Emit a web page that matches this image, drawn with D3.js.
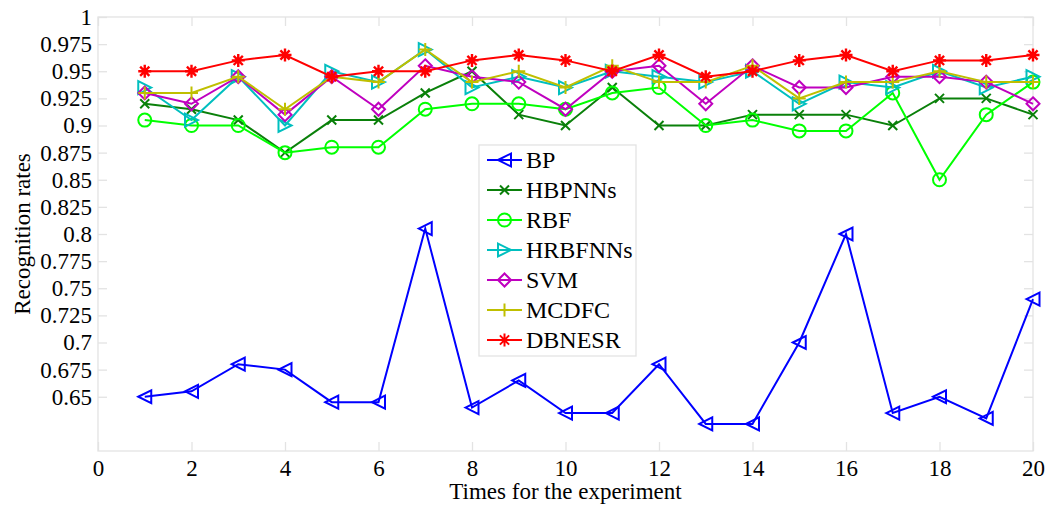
<!DOCTYPE html>
<html>
<head>
<meta charset="utf-8">
<style>
  body { margin: 0; background: #fff; }
  text { font-family: "Liberation Serif", "Times New Roman", serif; fill: #000; }
</style>
</head>
<body>
<script src="https://d3js.org/d3.v7.min.js"></script>
<script>
  // data
  const runs = d3.range(1, 21)
  const xTicks = [0, 2, 4, 6, 8, 10, 12, 14, 16, 18, 20]
  const yTicks = [0.65, 0.675, 0.7, 0.725, 0.75, 0.775, 0.8, 0.825, 0.85, 0.875, 0.9, 0.925, 0.95, 0.975, 1]

  const bp = [0.65, 0.655, 0.68, 0.675, 0.645, 0.645, 0.805, 0.64, 0.665, 0.635, 0.635, 0.68, 0.625, 0.625, 0.70, 0.80, 0.635, 0.65, 0.63, 0.74]
  const hbpnns = [0.92, 0.915, 0.905, 0.875, 0.905, 0.905, 0.93, 0.95, 0.91, 0.90, 0.935, 0.90, 0.90, 0.91, 0.91, 0.91, 0.90, 0.925, 0.925, 0.91]
  const rbf = [0.905, 0.90, 0.90, 0.875, 0.88, 0.88, 0.915, 0.92, 0.92, 0.915, 0.93, 0.935, 0.90, 0.905, 0.895, 0.895, 0.93, 0.85, 0.91, 0.94]
  const hrbfnns = [0.935, 0.905, 0.945, 0.90, 0.95, 0.94, 0.97, 0.935, 0.945, 0.935, 0.95, 0.945, 0.94, 0.95, 0.92, 0.94, 0.935, 0.95, 0.935, 0.945]
  const svm = [0.93, 0.92, 0.945, 0.91, 0.945, 0.915, 0.955, 0.945, 0.94, 0.915, 0.95, 0.955, 0.92, 0.955, 0.935, 0.935, 0.945, 0.945, 0.94, 0.92]
  const mcdfc = [0.93, 0.93, 0.945, 0.915, 0.945, 0.94, 0.97, 0.94, 0.95, 0.935, 0.955, 0.94, 0.94, 0.955, 0.925, 0.94, 0.94, 0.95, 0.94, 0.94]
  const dbnesr = [0.95, 0.95, 0.96, 0.965, 0.945, 0.95, 0.95, 0.96, 0.965, 0.96, 0.95, 0.965, 0.945, 0.95, 0.96, 0.965, 0.95, 0.96, 0.96, 0.965]

  const series = [
    { name: 'BP', values: bp, color: '#0000ff', marker: 'left' },
    { name: 'HBPNNs', values: hbpnns, color: '#0a800a', marker: 'x' },
    { name: 'RBF', values: rbf, color: '#00ff00', marker: 'circle' },
    { name: 'HRBFNNs', values: hrbfnns, color: '#00bfbf', marker: 'right' },
    { name: 'SVM', values: svm, color: '#bf00bf', marker: 'diamond' },
    { name: 'MCDFC', values: mcdfc, color: '#bfbf00', marker: 'plus' },
    { name: 'DBNESR', values: dbnesr, color: '#ff0000', marker: 'star' }
  ]

  const width = 1058
  const height = 508
  const margin = { top: 17, right: 25, bottom: 57, left: 98 }
  const w = width - margin.left - margin.right
  const h = height - margin.top - margin.bottom

  const svg = d3.select('body').append('svg')
    .attr('width', width)
    .attr('height', height)

  const g = svg.append('g')
    .attr('transform', `translate(${margin.left},${margin.top})`)

  const x = d3.scaleLinear().domain([0, 20]).range([0, w])
  const y = d3.scaleLinear().domain([0.6, 1]).range([h, 0])

  const frame = '#e3e3e3'
  const tickLen = 9

  // box
  g.append('rect')
    .attr('width', w).attr('height', h)
    .attr('fill', 'none').attr('stroke', frame).attr('stroke-width', 1.3)

  // axes (ticks inside, on all four sides)
  const fs = 23
  g.append('g')
    .attr('transform', `translate(0,${h})`)
    .call(d3.axisBottom(x).tickValues(xTicks).tickSizeInner(-tickLen).tickSizeOuter(0).tickPadding(9))
    .call(a => a.select('.domain').remove())
    .call(a => a.selectAll('line').attr('stroke', frame).attr('stroke-width', 1.3))
    .call(a => a.selectAll('text').style('font-size', fs + 'px').attr('fill', '#000'))

  g.append('g')
    .call(d3.axisTop(x).tickValues(xTicks).tickSizeInner(-tickLen).tickSizeOuter(0).tickFormat(''))
    .call(a => a.select('.domain').remove())
    .call(a => a.selectAll('line').attr('stroke', frame).attr('stroke-width', 1.3))

  g.append('g')
    .call(d3.axisLeft(y).tickValues(yTicks).tickSizeInner(-tickLen).tickSizeOuter(0).tickPadding(6)
      .tickFormat(d => d3.format('')(+d.toFixed(3))))
    .call(a => a.select('.domain').remove())
    .call(a => a.selectAll('line').attr('stroke', frame).attr('stroke-width', 1.3))
    .call(a => a.selectAll('text').style('font-size', fs + 'px').attr('fill', '#000'))

  g.append('g')
    .attr('transform', `translate(${w},0)`)
    .call(d3.axisRight(y).tickValues(yTicks).tickSizeInner(-tickLen).tickSizeOuter(0).tickFormat(''))
    .call(a => a.select('.domain').remove())
    .call(a => a.selectAll('line').attr('stroke', frame).attr('stroke-width', 1.3))

  // axis titles
  svg.append('text')
    .attr('x', margin.left + w / 2).attr('y', 499)
    .attr('text-anchor', 'middle')
    .style('font-size', '23px')
    .text('Times for the experiment')

  svg.append('text')
    .attr('transform', `translate(30,${margin.top + h / 2}) rotate(-90)`)
    .attr('text-anchor', 'middle')
    .style('font-size', '23px')
    .text('Recognition rates')

  // marker shapes
  function markerPath(type) {
    const s = 6.5
    switch (type) {
      case 'left': return `M${-s},0L${s},${-s}L${s},${s}Z`
      case 'right': return `M${s},0L${-s},${-s}L${-s},${s}Z`
      case 'diamond': return `M0,${-s}L${s},0L0,${s}L${-s},0Z`
      case 'circle': return `M${s},0A${s},${s} 0 1,1 ${-s},0A${s},${s} 0 1,1 ${s},0Z`
      case 'plus': return `M${-s},0H${s}M0,${-s}V${s}`
      case 'x': { const t = 4.5; return `M${-t},${-t}L${t},${t}M${-t},${t}L${t},${-t}` }
      case 'star': { const t = 4.6; return `M${-s},0H${s}M0,${-s}V${s}M${-t},${-t}L${t},${t}M${-t},${t}L${t},${-t}` }
    }
  }

  const line = d3.line().x((d, i) => x(runs[i])).y(d => y(d))

  series.forEach(s => {
    const sg = g.append('g')
    sg.append('path')
      .attr('d', line(s.values))
      .attr('fill', 'none')
      .attr('stroke', s.color)
      .attr('stroke-width', 2)
    sg.selectAll('path.m')
      .data(s.values)
      .enter().append('path')
      .attr('class', 'm')
      .attr('transform', (d, i) => `translate(${x(runs[i])},${y(d)})`)
      .attr('d', markerPath(s.marker))
      .attr('fill', 'none')
      .attr('stroke', s.color)
      .attr('stroke-width', s.marker === 'star' ? 2.4 : 2)
  })

  // legend
  const lg = svg.append('g').attr('transform', 'translate(479,145)')
  lg.append('rect')
    .attr('width', 157).attr('height', 211)
    .attr('fill', '#fff').attr('stroke', frame).attr('stroke-width', 1.3)

  const item = lg.selectAll('g.item')
    .data(series)
    .enter().append('g')
    .attr('class', 'item')
    .attr('transform', (d, i) => `translate(0,${15 + i * 30})`)

  item.append('line')
    .attr('x1', 8).attr('x2', 43)
    .attr('stroke', d => d.color).attr('stroke-width', 2)
  item.append('path')
    .attr('transform', 'translate(25.5,0)')
    .attr('d', d => markerPath(d.marker))
    .attr('fill', 'none')
    .attr('stroke', d => d.color)
    .attr('stroke-width', 2)
  item.append('text')
    .attr('x', 47).attr('dy', '0.35em')
    .style('font-size', '24px')
    .text(d => d.name)
</script>
</body>
</html>
